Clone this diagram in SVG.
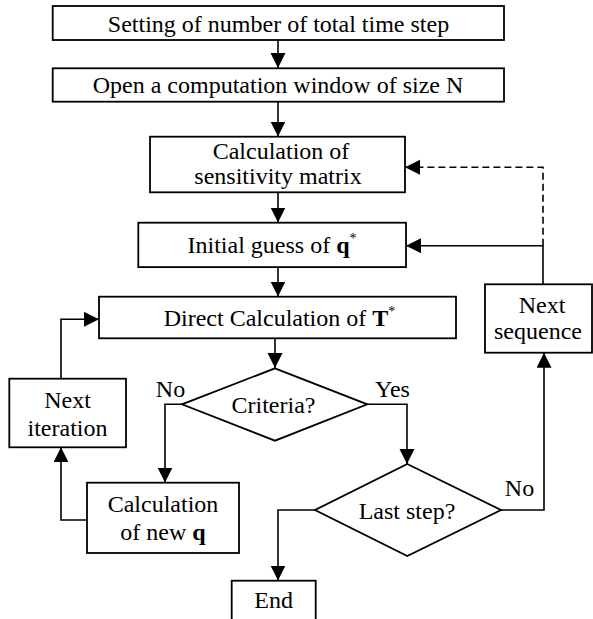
<svg xmlns="http://www.w3.org/2000/svg" width="593" height="619" viewBox="0 0 593 619">
<defs>
<marker id="ah" markerUnits="userSpaceOnUse" markerWidth="16" markerHeight="16" refX="15" refY="7.5" orient="auto" viewBox="0 0 16 16">
<path d="M0,0 L15,7.5 L0,15 z" fill="#000"/>
</marker>
<style>
.box{fill:#fff;stroke:#000;stroke-width:1.8}
.t{font-family:"Liberation Serif","Times New Roman",serif;font-size:24px;fill:#000;text-anchor:middle}
.b{font-weight:bold}
.sup{font-size:14px}
.c{fill:none;stroke:#000;stroke-width:1.6}
.d{stroke-dasharray:7,4}
</style>
</defs>
<rect width="593" height="619" fill="#fff"/>
<g id="connectors">
<path class="c" d="M278,40 V68" marker-end="url(#ah)"/>
<path class="c" d="M278,102 V136.5" marker-end="url(#ah)"/>
<path class="c" d="M278,192.5 V222.5" marker-end="url(#ah)"/>
<path class="c" d="M278,267 V296.5" marker-end="url(#ah)"/>
<path class="c" d="M275,338.5 V368" marker-end="url(#ah)"/>
<path class="c" d="M182,404.3 H165 V482.5" marker-end="url(#ah)"/>
<path class="c" d="M367.3,404.3 H407 V464" marker-end="url(#ah)"/>
<path class="c" d="M315,510 H278 V580.5" marker-end="url(#ah)"/>
<path class="c" d="M501,510 H544 V352.7" marker-end="url(#ah)"/>
<path class="c" d="M543,284.3 V245.7 H406" marker-end="url(#ah)"/>
<path class="c d" d="M543,245.7 V167.3 H405" marker-end="url(#ah)"/>
<path class="c" d="M87,520 H61 V447.3" marker-end="url(#ah)"/>
<path class="c" d="M61,378.7 V319.3 H99" marker-end="url(#ah)"/>
</g>
<g id="n1"><rect class="box" x="52.7" y="6" width="451.3" height="34"/><text class="t" x="278.5" y="31.5">Setting of number of total time step</text></g>
<g id="n2"><rect class="box" x="52.7" y="68.3" width="451.3" height="33.4"/><text class="t" x="278" y="93">Open a computation window of size N</text></g>
<g id="n3"><rect class="box" x="150" y="136.7" width="255" height="55.6"/><text class="t" x="281" y="159">Calculation of</text><text class="t" x="278" y="184">sensitivity matrix</text></g>
<g id="n4"><rect class="box" x="138.3" y="222.7" width="267.7" height="44.4"/><text class="t" x="272" y="253">Initial guess of <tspan class="b">q</tspan><tspan class="sup" dy="-10">*</tspan></text></g>
<g id="n5"><rect class="box" x="99" y="296.7" width="357" height="41.6"/><text class="t" x="279.5" y="326">Direct Calculation of <tspan class="b">T</tspan><tspan class="sup" dy="-10">*</tspan></text></g>
<g id="n6"><rect class="box" x="485" y="284.3" width="107" height="68.4"/><text class="t" x="542" y="313">Next</text><text class="t" x="538" y="339">sequence</text></g>
<g id="n7"><path class="box" d="M275,368.3 L367.3,404.3 L275,440.7 L182,404.3 Z"/><text class="t" x="273.5" y="413">Criteria?</text></g>
<g id="n8"><rect class="box" x="9.3" y="378.7" width="116.7" height="68.6"/><text class="t" x="67.5" y="407.5">Next</text><text class="t" x="67.5" y="435.5">iteration</text></g>
<g id="n9"><rect class="box" x="87" y="482.7" width="152" height="70.3"/><text class="t" x="163" y="511.5">Calculation</text><text class="t" x="163" y="540">of new <tspan class="b">q</tspan></text></g>
<g id="n10"><path class="box" d="M407.3,464 L501,510 L407.3,556 L315,510 Z"/><text class="t" x="407" y="519">Last step?</text></g>
<g id="n11"><rect class="box" x="231.7" y="580.7" width="84" height="50"/><text class="t" x="273.7" y="608">End</text></g>
<g id="labels">
<text class="t" x="170.5" y="396.7">No</text>
<text class="t" x="392.5" y="396.7">Yes</text>
<text class="t" x="519.5" y="496">No</text>
</g>
</svg>
